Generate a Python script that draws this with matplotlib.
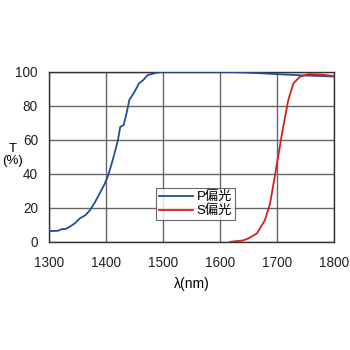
import matplotlib
matplotlib.use("Agg")
import matplotlib.pyplot as plt

plt.rcParams['font.family'] = ['Liberation Sans', 'Noto Sans CJK JP']

p_wl = [1300, 1316, 1322, 1329, 1336, 1345, 1354, 1364, 1372, 1381, 1389, 1398, 1404,
        1410, 1415, 1421, 1425, 1431, 1436, 1441, 1450, 1458, 1465, 1473, 1488, 1500,
        1550, 1600, 1650, 1700, 1750, 1800]
p_t = [6.3, 6.5, 7.5, 7.5, 8.8, 10.8, 13.8, 15.7, 18.6, 23.5, 28.5, 34.3, 39.2,
       46, 52, 59.8, 67.6, 68.6, 75.5, 83.4, 88.2, 93.2, 95, 98, 99.4, 100,
       100, 100, 99.5, 98.6, 97.8, 97.2]

s_wl = [1618, 1640, 1650, 1665, 1679, 1688, 1697, 1702, 1711, 1720, 1729, 1740, 1755, 1778, 1800]
s_t = [0, 0.8, 2, 5, 12.8, 22.6, 40, 50, 67.6, 83.4, 93.2, 97, 98.6, 98.3, 97.5]

xticks = [1300, 1400, 1500, 1600, 1700, 1800]
yticks = [0, 20, 40, 60, 80, 100]

fig = plt.figure(figsize=(3.5, 3.5), dpi=100)
ax = fig.add_axes([0.14, 0.309, 0.814, 0.486])
ax.plot(p_wl, p_t, color='#1f4e9a', lw=1.3, label='P偏光', zorder=3)
ax.plot(s_wl, s_t, color='#d42020', lw=1.3, label='S偏光', zorder=3)
ax.set_xlim(1300, 1800)
ax.set_ylim(0, 100)
ax.set_xticks(xticks)
ax.set_yticks(yticks)
ax.tick_params(length=0, labelsize=9.8, colors='#222222')
ax.tick_params(axis='x', pad=10)
ax.tick_params(axis='y', pad=8)
ax.grid(True, color='#666666', lw=1.0)
for s in ax.spines.values():
    s.set_color('#333333')
    s.set_linewidth(1.0)
ax.set_xlabel('λ(nm)', fontsize=10, labelpad=5)
fig.text(0.035, 0.557, 'T\n(%)', ha='center', va='center', fontsize=9.5, linespacing=1.0)
leg = ax.legend(loc='lower left', bbox_to_anchor=(156/350, (350-220)/350),
                bbox_transform=fig.transFigure, fontsize=9.5, frameon=True,
                fancybox=False, edgecolor='#444444', handlelength=2.6,
                handletextpad=0.3, borderpad=0.2, labelspacing=0.1, borderaxespad=0)
leg.get_frame().set_linewidth(0.8)
leg.set_zorder(5)
fig.savefig('out.png', dpi=100)
